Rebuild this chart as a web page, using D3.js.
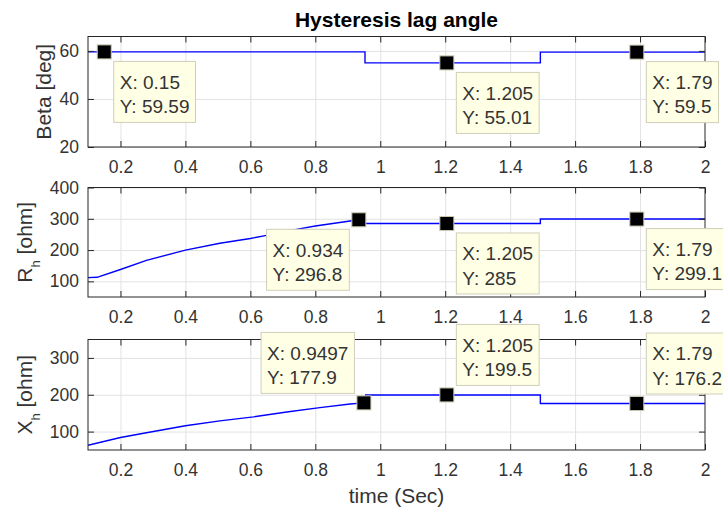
<!DOCTYPE html>
<html><head><meta charset="utf-8">
<script src="https://cdn.jsdelivr.net/npm/d3@7"></script>
<style>
html,body{margin:0;padding:0;background:#fff;}
svg{display:block;font-family:"Liberation Sans",Arial,Helvetica,sans-serif;}
</style></head><body>
<svg id="chart" width="723" height="509"></svg>
<script>
// Shared time axis
const xTicks = [0.2, 0.4, 0.6, 0.8, 1, 1.2, 1.4, 1.6, 1.8, 2];
const xTickLabels = ["0.2", "0.4", "0.6", "0.8", "1", "1.2", "1.4", "1.6", "1.8", "2"];

// Beta [deg]
const betaTime  = [0.1, 0.953, 0.953, 1.493, 1.493, 2];
const betaValue = [59.59, 59.59, 55.01, 55.01, 59.5, 59.5];
const betaTicks = [20, 40, 60];
const betaTipX  = [0.15, 1.205, 1.79];
const betaTipY  = [59.59, 55.01, 59.5];

// R_h [ohm]
const rhTime  = [0.1, 0.128, 0.2, 0.28, 0.4, 0.506, 0.6, 0.65, 0.742, 0.8, 0.907, 0.934, 0.951, 0.951, 1.493, 1.493, 2];
const rhValue = [112, 113, 138, 167, 200, 222, 237, 247, 266, 277, 293, 296.8, 297, 285, 285, 299.1, 299.1];
const rhTicks = [100, 200, 300, 400];
const rhTipX  = [0.934, 1.205, 1.79];
const rhTipY  = [296.8, 285, 299.1];

// X_h [ohm]
const xhTime  = [0.1, 0.2, 0.28, 0.4, 0.506, 0.61, 0.712, 0.814, 0.907, 0.9497, 0.955, 0.955, 1.493, 1.493, 2];
const xhValue = [63, 84, 97, 116, 129, 140, 153, 165, 175, 177.9, 178.2, 199.5, 199.5, 176.2, 176.2];
const xhTicks = [100, 200, 300];
const xhTipX  = [0.9497, 1.205, 1.79];
const xhTipY  = [177.9, 199.5, 176.2];

const svg = d3.select("#chart");
const AX = "#262626", GRID = "#e2e2e2", TXT = "#333333";
const left = 88, right = 705;
const x = d3.scaleLinear().domain([0.1, 2]).range([left, right]);

const panels = [
  { id: "beta", time: betaTime, value: betaValue, domain: [20, 66], top: 36.5, bottom: 147,
    ticks: betaTicks, main: "Beta [deg]", sub: null, rest: null, labelX: 51,
    tipX: betaTipX, tipY: betaTipY, corner: ["se", "se", "se"] },
  { id: "rh", time: rhTime, value: rhValue, domain: [50, 400], top: 187.5, bottom: 297,
    ticks: rhTicks, main: "R", sub: "h", rest: " [ohm]", labelX: 31.5,
    tipX: rhTipX, tipY: rhTipY, corner: ["sw", "se", "se"] },
  { id: "xh", time: xhTime, value: xhValue, domain: [50, 350], top: 339.5, bottom: 450,
    ticks: xhTicks, main: "X", sub: "h", rest: " [ohm]", labelX: 31.5,
    tipX: xhTipX, tipY: xhTipY, corner: ["nw", "ne", "ne"] }
];

function styleAxis(g, showText) {
  g.select(".domain").remove();
  g.selectAll(".tick line").attr("stroke", AX).attr("stroke-width", 1);
  g.attr("font-family", null).attr("font-size", null);
  if (!showText) g.selectAll(".tick text").remove();
  else g.selectAll(".tick text").attr("fill", TXT).style("font-size", "17.5px");
}

panels.forEach(p => {
  const y = d3.scaleLinear().domain(p.domain).range([p.bottom, p.top]);
  const h = p.bottom - p.top, w = right - left;
  const g = svg.append("g").attr("class", "panel-" + p.id);

  // grid
  const gx = g.append("g").attr("transform", `translate(0,${p.bottom})`)
    .call(d3.axisBottom(x).tickValues(xTicks.filter(v => v < 2)).tickSize(-h).tickFormat(""));
  gx.select(".domain").remove();
  gx.selectAll("line").attr("stroke", GRID).attr("stroke-width", 1);
  const gy = g.append("g").attr("transform", `translate(${left},0)`)
    .call(d3.axisLeft(y).tickValues(p.ticks).tickSize(-w).tickFormat(""));
  gy.select(".domain").remove();
  gy.selectAll("line").attr("stroke", GRID).attr("stroke-width", 1);

  // data line
  const clipId = "clip-" + p.id;
  g.append("clipPath").attr("id", clipId).append("rect")
    .attr("x", left).attr("y", p.top).attr("width", w).attr("height", h);
  const pts = p.time.map((t, i) => [t, p.value[i]]);
  g.append("path").datum(pts)
    .attr("clip-path", `url(#${clipId})`)
    .attr("fill", "none").attr("stroke", "#0000ff").attr("stroke-width", 1.4)
    .attr("d", d3.line().x(d => x(d[0])).y(d => y(d[1])));

  // axes (inward ticks on all four sides)
  g.append("g").attr("transform", `translate(0,${p.bottom})`)
    .call(d3.axisBottom(x).tickValues(xTicks).tickFormat((d, i) => xTickLabels[i])
      .tickSizeInner(-6).tickSizeOuter(0).tickPadding(13.5))
    .call(a => styleAxis(a, true));
  g.append("g").attr("transform", `translate(0,${p.top})`)
    .call(d3.axisTop(x).tickValues(xTicks).tickSizeInner(-6).tickSizeOuter(0))
    .call(a => styleAxis(a, false));
  g.append("g").attr("transform", `translate(${left},0)`)
    .call(d3.axisLeft(y).tickValues(p.ticks).tickSizeInner(-6).tickSizeOuter(0).tickPadding(9))
    .call(a => styleAxis(a, true));
  g.append("g").attr("transform", `translate(${right},0)`)
    .call(d3.axisRight(y).tickValues(p.ticks).tickSizeInner(-6).tickSizeOuter(0))
    .call(a => styleAxis(a, false));

  g.append("rect").attr("x", left).attr("y", p.top).attr("width", w).attr("height", h)
    .attr("fill", "none").attr("stroke", AX).attr("stroke-width", 1);

  // y label
  const cy = (p.top + p.bottom) / 2;
  const lab = g.append("text")
    .attr("transform", `translate(${p.labelX},${cy}) rotate(-90)`)
    .attr("text-anchor", "middle").attr("fill", TXT).style("font-size", "21px");
  lab.append("tspan").text(p.main);
  if (p.sub) {
    lab.append("tspan").attr("dy", 8).style("font-size", "13px").text(p.sub);
    lab.append("tspan").attr("dy", -8).style("font-size", "21px").text(p.rest);
  }

  // data tips
  p.tipX.forEach((tx, i) => {
    const mx = x(tx), my = y(p.tipY[i]);
    const tip = g.append("g");
    const box = tip.append("rect").attr("fill", "#ffffe6").attr("stroke", "#cfcfb8").attr("stroke-width", 1);
    const t1 = tip.append("text").attr("fill", TXT).style("font-size", "19px").text("X: " + tx);
    const t2 = tip.append("text").attr("fill", TXT).style("font-size", "19px").text("Y: " + p.tipY[i]);
    const tw = Math.max(t1.node().getComputedTextLength(), t2.node().getComputedTextLength());
    const bw = tw + 12, bh = 61, off = 9.5;
    const c = p.corner[i];
    const bx = c.includes("e") ? mx + off : mx - off - bw;
    const by = c.includes("s") ? my + off : my - off - bh;
    box.attr("x", bx).attr("y", by).attr("width", bw).attr("height", bh);
    t1.attr("x", bx + 6).attr("y", by + 27.3);
    t2.attr("x", bx + 6).attr("y", by + 51.7);
    g.append("rect").attr("x", mx - 7).attr("y", my - 7).attr("width", 14).attr("height", 14)
      .attr("fill", "#000").attr("stroke", "#c9c9b0").attr("stroke-width", 1);
  });
});

// title and x label
svg.append("text").attr("x", (left + right) / 2).attr("y", 27).attr("text-anchor", "middle")
  .attr("fill", "#000").style("font-size", "21px").style("font-weight", "bold")
  .text("Hysteresis lag angle");
svg.append("text").attr("x", (left + right) / 2).attr("y", 503).attr("text-anchor", "middle")
  .attr("fill", TXT).style("font-size", "21px").text("time (Sec)");
</script>
</body></html>
